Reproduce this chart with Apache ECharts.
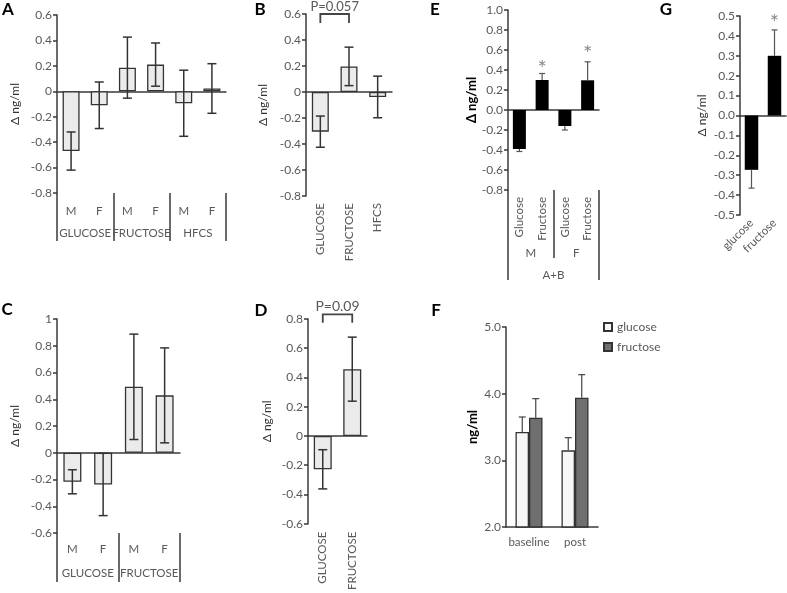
<!DOCTYPE html>
<html><head><meta charset="utf-8">
<script src="https://cdn.jsdelivr.net/npm/echarts@6/dist/echarts.min.js"></script>
<style>html,body{margin:0;padding:0;background:#fff}#c{width:787px;height:593px}</style>
</head><body><div id="c"></div><script>
// ---------- data ----------
const catA = ['M','F','M','F','M','F'];
const groupsA = ['GLUCOSE','FRUCTOSE','HFCS'];
const valA = [-0.47,-0.11,0.186,0.21,-0.094,0.022];
const errA = [0.15,0.183,0.24,0.17,0.26,0.195];

const catB = ['GLUCOSE','FRUCTOSE','HFCS'];
const valB = [-0.305,0.197,-0.038];
const errB = [0.12,0.148,0.16];
const bracketB = [0,1,0.60,0.53];
const pTextB = 'P=0.057';

const catE = ['Glucose','Fructose','Glucose','Fructose'];
const groupsE = ['M','F'];
const outerE = ['A+B'];
const valE = [-0.39,0.30,-0.16,0.297];
const errE = [0.025,0.065,0.04,0.185];
const starsE = [[1,0.46],[3,0.61]];

const catG = ['glucose','fructose'];
const valG = [-0.273,0.30];
const errG = [0.092,0.13];
const starsG = [[1,0.49]];

const catC = ['M','F','M','F'];
const groupsC = ['GLUCOSE','FRUCTOSE'];
const valC = [-0.217,-0.237,0.493,0.429];
const errC = [0.09,0.233,0.394,0.355];

const catD = ['GLUCOSE','FRUCTOSE'];
const valD = [-0.228,0.457];
const errD = [0.134,0.219];
const bracketD = [0,1,0.832,0.774];
const pTextD = 'P=0.09';

const catF = ['baseline','post'];
const gluF = [3.425,3.15];
const gluErrF = [0.225,0.19];
const fruF = [3.64,3.94];
const fruErrF = [0.285,0.345];

// ---------- builders ----------
const FONT = 'Lato';
const AX = '#3a3a3a', TXT = '#595959';
const grids = [], xAxes = [], yAxes = [], series = [];
const fmt1 = v => (Math.abs(v) < 1e-9 ? 0 : v).toFixed(1);

function addGrid(g){ grids.push(g); return grids.length-1; }
function addY(gi, min, max, interval, fmt, name, nameGap, bold){
  const lab = {color:TXT, fontSize:12, fontFamily:FONT, margin:5};
  if (fmt) lab.formatter = fmt;
  yAxes.push({gridIndex:gi, type:'value', min:min, max:max, interval:interval,
    axisLine:{show:true, lineStyle:{color:AX, width:1.5}},
    axisTick:{show:true, length:4, lineStyle:{color:AX, width:1.5}},
    splitLine:{show:false}, axisLabel:lab,
    name:name, nameLocation:'middle', nameGap:nameGap,
    nameTextStyle:{color: bold ? '#000' : '#333', fontSize: bold ? 13 : 12, fontFamily:FONT, fontWeight: bold ? 'bold' : 'normal'}
  });
  return yAxes.length-1;
}
function addX(o){ xAxes.push(Object.assign({type:'category', position:'bottom'}, o)); return xAxes.length-1; }
function mainX(gi, cats){
  return addX({gridIndex:gi, data:cats,
    axisLine:{show:true, onZero:true, lineStyle:{color:AX, width:1.5}},
    axisTick:{show:false}, axisLabel:{show:false}});
}
function labelX(gi, cats, rotate, margin){
  return addX({gridIndex:gi, data:cats,
    axisLine:{show:false, onZero:false}, axisTick:{show:false},
    axisLabel:{show:true, interval:0, rotate:rotate, margin:margin, color:TXT, fontSize:11.5, fontFamily:FONT}});
}
function groupX(gi, groups, len, margin){
  return addX({gridIndex:gi, data:groups,
    axisLine:{show:false, onZero:false},
    axisTick:{show:true, interval:0, length:len, lineStyle:{color:AX, width:1.5}},
    axisLabel:{show:true, interval:0, margin:margin, color:TXT, fontSize:11.5, fontFamily:FONT}});
}
function barS(xi, yi, vals, width, color, border, name){
  return {type:'bar', name:name, xAxisIndex:xi, yAxisIndex:yi, data:vals, barWidth:width, silent:true,
    itemStyle:{color:color, borderColor:border || color, borderWidth: border ? 1.3 : 0}};
}
function errS(xi, yi, vals, errs, mode, st, offset){
  return {type:'custom', xAxisIndex:xi, yAxisIndex:yi, z:5, silent:true, clip:false,
    data: vals.map((v,i) => [i, v, errs[i]]),
    renderItem: function(params, api){
      const i = api.value(0), v = api.value(1), e = api.value(2);
      const dir = v >= 0 ? 1 : -1;
      const a = mode === 'both' ? v - e : v;
      const b = mode === 'both' ? v + e : v + dir * e;
      const p1 = api.coord([i, a]), p2 = api.coord([i, b]);
      const x = p1[0] + (offset || 0);
      const ls = {stroke:st.color, lineWidth:st.width};
      const ch = [
        {type:'line', shape:{x1:x, y1:p1[1], x2:x, y2:p2[1]}, style:ls},
        {type:'line', shape:{x1:x-st.cap, y1:p2[1], x2:x+st.cap, y2:p2[1]}, style:ls}];
      if (mode === 'both') ch.push({type:'line', shape:{x1:x-st.cap, y1:p1[1], x2:x+st.cap, y2:p1[1]}, style:ls});
      return {type:'group', children:ch};
    }};
}
function starS(xi, yi, stars){
  return {type:'custom', xAxisIndex:xi, yAxisIndex:yi, z:6, silent:true, clip:false, data:stars,
    renderItem: function(params, api){
      const p = api.coord([api.value(0), api.value(1)]);
      return {type:'text', x:p[0], y:p[1]+5, style:{text:'*', fill:'#8a8a8a', font:'22px Lato', align:'center', verticalAlign:'middle'}};
    }};
}
function bracketS(xi, yi, br, text, fs){
  return {type:'custom', xAxisIndex:xi, yAxisIndex:yi, z:6, silent:true, clip:false, data:[br],
    renderItem: function(params, api){
      const a = api.coord([api.value(0), api.value(3)]);
      const b = api.coord([api.value(0), api.value(2)]);
      const c = api.coord([api.value(1), api.value(2)]);
      const d = api.coord([api.value(1), api.value(3)]);
      return {type:'group', children:[
        {type:'polyline', shape:{points:[a,b,c,d]}, style:{stroke:'#444', lineWidth:1.8, fill:null}},
        {type:'text', x:(b[0]+c[0])/2, y:b[1]-1, style:{text:text, fill:TXT, font:fs+'px Lato', align:'center', verticalAlign:'bottom'}}
      ]};
    }};
}

const errLight = {color:'#333', width:1.5, cap:4.5};
const errDark = {color:'#555', width:1.2, cap:3};

// Panel A
let g = addGrid({left:57, top:15, width:169, height:178});
let y = addY(g, -0.8, 0.6, 0.2, null, 'Δ ng/ml', 36, false);
let x = mainX(g, catA);
labelX(g, catA, 0, 12);
groupX(g, groupsA, 48, 34);
series.push(barS(x, y, valA, 17, '#ebebeb', '#333', 'A'), errS(x, y, valA, errA, 'both', errLight));

// Panel B
g = addGrid({left:306, top:14, width:86, height:182});
y = addY(g, -0.8, 0.6, 0.2, null, 'Δ ng/ml', 37, false);
x = mainX(g, catB);
labelX(g, catB, 90, 7);
series.push(barS(x, y, valB, 17, '#ebebeb', '#333', 'B'), errS(x, y, valB, errB, 'both', errLight), bracketS(x, y, bracketB, pTextB, 13));

// Panel E
g = addGrid({left:508, top:10, width:91, height:180});
y = addY(g, -0.8, 1.0, 0.2, fmt1, 'Δ ng/ml', 28, true);
x = mainX(g, catE);
labelX(g, catE, 90, 7);
groupX(g, groupsE, 68, 57);
groupX(g, outerE, 90, 79);
series.push(barS(x, y, valE, 13, '#000', null, 'E'), errS(x, y, valE, errE, 'out', errDark), starS(x, y, starsE));

// Panel G
g = addGrid({left:740, top:16, width:46, height:199});
y = addY(g, -0.5, 0.5, 0.1, fmt1, 'Δ ng/ml', 32, false);
x = mainX(g, catG);
labelX(g, catG, 45, 6);
series.push(barS(x, y, valG, 13.5, '#000', null, 'G'), errS(x, y, valG, errG, 'out', errDark), starS(x, y, starsG));

// Panel C
g = addGrid({left:57, top:319, width:123, height:214});
y = addY(g, -0.6, 1, 0.2, null, 'Δ ng/ml', 36, false);
x = mainX(g, catC);
labelX(g, catC, 0, 10);
groupX(g, groupsC, 49, 34);
series.push(barS(x, y, valC, 18, '#ebebeb', '#333', 'C'), errS(x, y, valC, errC, 'both', errLight));

// Panel D
g = addGrid({left:308, top:319, width:59, height:214});
y = addY(g, -0.6, 0.8, 0.2, null, 'Δ ng/ml', 35, false);
x = mainX(g, catD);
labelX(g, catD, 90, 8);
series.push(barS(x, y, valD, 18, '#ebebeb', '#333', 'D'), errS(x, y, valD, errD, 'both', errLight), bracketS(x, y, bracketD, pTextD, 14));

// Panel F
g = addGrid({left:506, top:327, width:92, height:200});
y = addY(g, 2, 5, 1, fmt1, 'ng/ml', 27, true);
x = addX({gridIndex:g, data:catF,
  axisLine:{show:true, onZero:false, lineStyle:{color:AX, width:1.5}},
  axisTick:{show:false},
  axisLabel:{interval:0, margin:9, color:TXT, fontSize:11.5, fontFamily:FONT}});
const bF1 = barS(x, y, gluF, 13.5, '#f7f7f7', '#333', 'glucose'); bF1.barGap = '0%';
const bF2 = barS(x, y, fruF, 13.5, '#6f6f6f', '#333', 'fructose'); bF2.barGap = '0%';
series.push(bF1, bF2, errS(x, y, gluF, gluErrF, 'out', {color:'#444', width:1.2, cap:3.5}, -6.75),
  errS(x, y, fruF, fruErrF, 'out', {color:'#444', width:1.2, cap:3.5}, 6.75));

// panel letters
const letters = [['A',8,10],['B',260,10],['E',435,10],['G',666,10],['C',7,310],['D',261,311],['F',436,311]];

const chart = echarts.init(document.getElementById('c'), null, {renderer:'canvas'});
chart.setOption({
  animation:false,
  backgroundColor:'#fff',
  textStyle:{fontFamily:FONT},
  grid:grids, xAxis:xAxes, yAxis:yAxes, series:series,
  legend:{data:['glucose','fructose'], orient:'vertical', left:598, top:316, icon:'rect',
    itemWidth:8, itemHeight:8, itemGap:8, selectedMode:false,
    textStyle:{color:TXT, fontSize:12, fontFamily:FONT}},
  graphic: letters.map(l => ({type:'text', x:l[1], y:l[2], silent:true,
    style:{text:l[0], font:'bold 17px Lato', fill:'#000', align:'center', verticalAlign:'middle'}}))
});
</script></body></html>
